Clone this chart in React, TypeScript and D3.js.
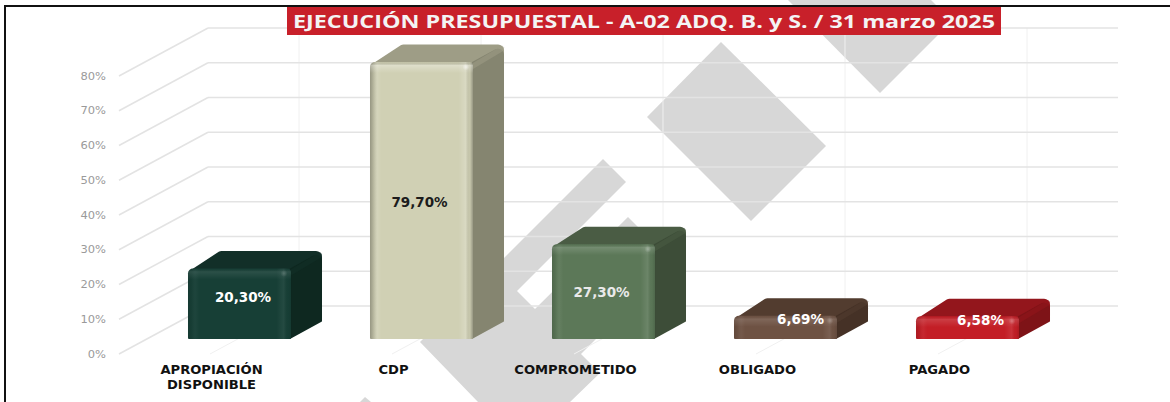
import React from "react";
import * as d3 from "d3";

const categories = ["APROPIACIÓN DISPONIBLE", "CDP", "COMPROMETIDO", "OBLIGADO", "PAGADO"];
const categoryLines = [["APROPIACIÓN", "DISPONIBLE"], ["CDP"], ["COMPROMETIDO"], ["OBLIGADO"], ["PAGADO"]];
const values = [20.3, 79.7, 27.3, 6.69, 6.58];
const ticks = [0, 10, 20, 30, 40, 50, 60, 70, 80];
const frontColors = ["#173f36", "#d0d0b4", "#5c7858", "#6e5243", "#c31e26"];
const topColors = ["#122f28", "#9e9d86", "#4a5c44", "#523c2f", "#93161c"];
const sideColors = ["#0e2820", "#858570", "#3d4d38", "#453126", "#7e1317"];
const labelColors = ["#ffffff", "#1c1c1c", "#e9e9e9", "#ffffff", "#ffffff"];
const bevelStrength = [0.3, 1, 0.5, 0.4, 0.45];
const labelDx = [3.5, -2, -2, 15, 13];
const labelDy = [-7, 1, 0, -8, -8];
const title = "EJECUCIÓN PRESUPUESTAL - A-02 ADQ. B. y S. / 31 marzo 2025";

// watermark polygons, in picture pixels
const watermarks: [number, number][][] = [
  [[721, 42], [826, 146], [751, 221], [647, 117]],
  [[788, 0], [931, 0], [952, 21], [880, 93]],
  [[603, 159], [626, 182], [517, 291], [535, 309], [628, 217], [673, 262], [581, 354], [600, 373], [570, 402], [478, 402], [420, 342]],
  [[365, 397], [371, 402], [360, 402]],
];

const W = 1170, H = 402;
const wallDx = 89, wallDy = 48;
const barDx = 31, barDy = 17.5;
const yWall = d3.scaleLinear().domain([0, 80]).range([306, 28]);
const yBar = d3.scaleLinear().domain([0, 80]).range([339, 61]);
const xBar = d3.scaleBand().domain(categories).range([148.5, 1058.5]).paddingInner(0.434).paddingOuter(0.217);
const xWall = d3.scalePoint().domain(categories).range([208, 1118]).padding(0.5);
const LABEL_FONT = "'DejaVu Sans', sans-serif";

function roundPoly(pts: [number, number][], radii: number[]) {
  const p = d3.path();
  const n = pts.length;
  const first = pts[0];
  const last = pts[n - 1];
  p.moveTo((first[0] + last[0]) / 2, (first[1] + last[1]) / 2);
  for (let i = 0; i < n; i++) {
    const c = pts[i], nx = pts[(i + 1) % n];
    if (radii[i] > 0) p.arcTo(c[0], c[1], nx[0], nx[1], radii[i]);
    else p.lineTo(c[0], c[1]);
  }
  p.closePath();
  return p.toString();
}

const poly = d3.line();

function Bar({ i }: { i: number }) {
  const cat = categories[i];
  const x0 = xBar(cat)!, x1 = x0 + xBar.bandwidth();
  const top = yBar(values[i]), bottom = yBar(0);
  const s = bevelStrength[i];
  const front = roundPoly([[x0, top], [x1, top], [x1, bottom], [x0, bottom]], [5, 4, 1, 1]);
  const topFace = roundPoly(
    [[x0 + 0.5, top + 3], [x0 + barDx + 1, top - barDy], [x1 + barDx, top - barDy], [x1 + barDx, top], [x1, top + 2]],
    [1.5, 5, 6, 0, 0]
  );
  const side = roundPoly([[x1 - 1, top], [x1 + barDx, top - barDy], [x1 + barDx, bottom - barDy], [x1 - 1, bottom]], [0, 6, 1, 0]);
  const band = poly([[x1, top + 1], [x1 + barDx - 2, top - barDy + 1], [x1 + barDx, top - barDy + 3], [x1 + barDx, top - barDy + 6], [x1, top + 7]])!;
  const topBevelH = Math.min(11, bottom - top);
  const bevel = roundPoly([[x0, top], [x1, top], [x1, top + topBevelH], [x0, top + topBevelH]], [5, 4, 0, 0]);
  return (
    <g>
      <path d={topFace} fill={topColors[i]} />
      <path d={side} fill={sideColors[i]} />
      <path d={band} fill={topColors[i]} opacity={0.55} />
      <path d={front} fill={frontColors[i]} />
      <path d={front} fill="url(#hBevel)" opacity={s} />
      <path d={bevel} fill="url(#vBevel)" opacity={s} />
      <circle cx={x1 - 7} cy={top + 5} r={3.5} fill="url(#spot)" opacity={s} />
    </g>
  );
}

export default function App() {
  return (
    <svg width={W} height={H} viewBox={`0 0 ${W} ${H}`} style={{ position: "absolute", left: 0, top: 0, display: "block", background: "#fff" }}>
      <defs>
        <linearGradient id="hBevel" x1="0" x2="1" y1="0" y2="0">
          <stop offset="0" stopColor="#000" stopOpacity={0.28} />
          <stop offset="0.03" stopColor="#000" stopOpacity={0.14} />
          <stop offset="0.07" stopColor="#fff" stopOpacity={0.1} />
          <stop offset="0.11" stopColor="#fff" stopOpacity={0} />
          <stop offset="0.86" stopColor="#fff" stopOpacity={0} />
          <stop offset="0.93" stopColor="#fff" stopOpacity={0.2} />
          <stop offset="0.97" stopColor="#000" stopOpacity={0.04} />
          <stop offset="1" stopColor="#000" stopOpacity={0.28} />
        </linearGradient>
        <linearGradient id="vBevel" x1="0" x2="0" y1="0" y2="1">
          <stop offset="0" stopColor="#000" stopOpacity={0.05} />
          <stop offset="0.3" stopColor="#fff" stopOpacity={0.3} />
          <stop offset="1" stopColor="#fff" stopOpacity={0} />
        </linearGradient>
        <radialGradient id="spot">
          <stop offset="0" stopColor="#fff" stopOpacity={0.55} />
          <stop offset="1" stopColor="#fff" stopOpacity={0} />
        </radialGradient>
      </defs>

      <rect width={W} height={H} fill="#fff" />
      {watermarks.map((w, i) => (
        <path key={i} d={poly(w)! + "Z"} fill="#d7d7d7" />
      ))}

      {categories.map((c) => (
        <g key={c} stroke="#f0f0f0" strokeWidth={1}>
          <line x1={xWall(c)} x2={xWall(c)} y1={yWall(80)} y2={yWall(0)} />
          <line x1={xWall(c)} x2={xWall(c)! - wallDx} y1={yWall(0)} y2={yWall(0) + wallDy} />
        </g>
      ))}
      {ticks.map((t) => (
        <g key={t} stroke="#e3e3e3" strokeWidth={1.5} fill="none">
          <line x1={208} x2={1118} y1={yWall(t)} y2={yWall(t)} />
          <line x1={208} x2={208 - wallDx} y1={yWall(t)} y2={yWall(t) + wallDy} />
        </g>
      ))}
      {ticks.map((t) => (
        <text
          key={t}
          transform={`translate(106,${yWall(t) + wallDy + 3.5}) scale(1.15,1)`}
          textAnchor="end"
          fontFamily={LABEL_FONT}
          fontSize={10}
          fill="#9a9a9a"
        >
          {t}%
        </text>
      ))}

      <path d="M5 402V6H1170" fill="none" stroke="#111" strokeWidth={2} />

      <rect x={287} y={7} width={714} height={28} fill="#c8202a" />
      <text
        x={293}
        y={28}
        textLength={702}
        lengthAdjust="spacingAndGlyphs"
        fontFamily="'Open Sans', sans-serif"
        fontWeight={700}
        fontSize={18.5}
        fill="#f4f4f4"
      >
        {title}
      </text>

      {categories.map((c, i) => <Bar key={c} i={i} />)}

      {categories.map((c, i) => (
        <text
          key={c}
          x={xBar(c)! + xBar.bandwidth() / 2 + labelDx[i]}
          y={yBar(values[i] / 2) + 5 + labelDy[i]}
          textAnchor="middle"
          fontFamily={LABEL_FONT}
          fontWeight={700}
          fontSize={13.5}
          fill={labelColors[i]}
        >
          {values[i].toFixed(2).replace(".", ",")}%
        </text>
      ))}

      {categories.map((c, i) =>
        categoryLines[i].map((line, k) => (
          <text
            key={line}
            transform={`translate(${xBar(c)! + xBar.bandwidth() / 2 - 28},${374 + k * 15}) scale(1.14,1)`}
            textAnchor="middle"
            fontFamily={LABEL_FONT}
            fontWeight={700}
            fontSize={11.5}
            fill="#111"
          >
            {line}
          </text>
        ))
      )}
    </svg>
  );
}
